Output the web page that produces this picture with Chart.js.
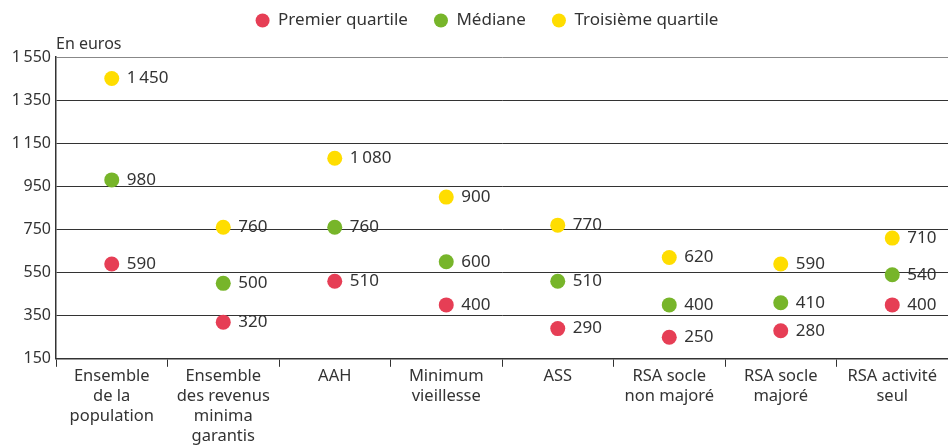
<!DOCTYPE html>
<html>
<head>
<meta charset="utf-8">
<script src="https://cdn.jsdelivr.net/npm/chart.js@4"></script>
<style>
 html, body { margin: 0; padding: 0; background: #fff; }
 #wrap { width: 948px; height: 446px; }
</style>
</head>
<body>
<div id="wrap"><canvas id="chart"></canvas></div>
<script>
const categories = [
 ["Ensemble", "de la", "population"],
 ["Ensemble", "des revenus", "minima", "garantis"],
 ["AAH"],
 ["Minimum", "vieillesse"],
 ["ASS"],
 ["RSA socle", "non majoré"],
 ["RSA socle", "majoré"],
 ["RSA activité", "seul"],
];
const premierQuartile = [590, 320, 510, 400, 290, 250, 280, 400];
const mediane = [980, 500, 760, 600, 510, 400, 410, 540];
const troisiemeQuartile = [1450, 760, 1080, 900, 770, 620, 590, 710];
const yTicks = [150, 350, 550, 750, 950, 1150, 1350, 1550];

const FONT = "'Noto Sans', sans-serif";
const TEXT = "#333333";

const fmt = v => {
 const s = String(v);
 return s.length > 3 ? s.slice(0, -3) + "\u2009" + s.slice(-3) : s;
};

const pointLabels = {
 id: "pointLabels",
 beforeInit(chart) {
  const legend = chart.legend;
  if (legend) {
   // leave room under the legend for the "En euros" note
   const fit = legend.fit;
   legend.fit = function () {
    fit.call(this);
    this.height += 18;
   };
   // legend sits a little right of the canvas centre
   const draw = legend.draw;
   legend.draw = function (...args) {
    this.ctx.save();
    this.ctx.translate(13, 0);
    draw.apply(this, args);
    this.ctx.restore();
   };
  }
 },
 afterDatasetsDraw(chart) {
  const ctx = chart.ctx;
  ctx.save();
  ctx.font = "17px " + FONT;
  ctx.fillStyle = TEXT;
  ctx.textAlign = "left";
  ctx.textBaseline = "middle";
  chart.data.datasets.forEach((ds, i) => {
   chart.getDatasetMeta(i).data.forEach((pt, j) => {
    ctx.fillText(fmt(ds.data[j]), pt.x + 15, pt.y);
   });
  });
  ctx.font = "16px " + FONT;
  ctx.fillText("En euros", chart.chartArea.left, chart.chartArea.top - 13);
  ctx.restore();
 },
};

const makeSet = (label, data, color) => ({
 label,
 data,
 backgroundColor: color,
 borderColor: color,
 pointRadius: 7.5,
 pointHoverRadius: 7.5,
 pointBorderWidth: 0,
 showLine: false,
});

new Chart(document.getElementById("chart"), {
 type: "line",
 data: {
  labels: categories,
  datasets: [
   makeSet("Premier quartile", premierQuartile, "#e63e55"),
   makeSet("Médiane", mediane, "#77b52a"),
   makeSet("Troisième quartile", troisiemeQuartile, "#ffdd00"),
  ],
 },
 options: {
  responsive: true,
  maintainAspectRatio: false,
  animation: false,
  layout: {
   autoPadding: false,
   padding: { top: -14, left: 0, right: 0, bottom: 0 },
  },
  plugins: {
   tooltip: { enabled: false },
   legend: {
    position: "top",
    labels: {
     usePointStyle: true,
     pointStyle: "circle",
     boxWidth: 10,
     boxHeight: 10,
     pointStyleWidth: 14,
     padding: 26,
     color: TEXT,
     font: { family: FONT, size: 17 },
    },
   },
  },
  scales: {
   x: {
    offset: true,
    afterFit: axis => {
     axis.paddingLeft = 0;
     axis.paddingRight = 0;
    },
    grid: {
     offset: true,
     drawOnChartArea: false,
     tickLength: 8,
     color: "#333",
    },
    border: { color: "#333", width: 1.5 },
    ticks: {
     color: TEXT,
     font: { family: FONT, size: 16.5, lineHeight: 1.2 },
     maxRotation: 0,
     autoSkip: false,
     padding: 0,
    },
   },
   y: {
    min: 150,
    max: 1550,
    afterBuildTicks: axis => {
     axis.ticks = yTicks.map(v => ({ value: v }));
    },
    afterFit: axis => {
     axis.width = 56;
    },
    grid: {
     drawTicks: false,
     color: c => (c.tick && c.tick.value === 1550 ? "#888" : "#333"),
    },
    border: { color: "#333", width: 1.5 },
    ticks: {
     color: TEXT,
     font: { family: FONT, size: 16 },
     padding: 5,
     callback: v => fmt(v),
    },
   },
  },
 },
 plugins: [pointLabels],
});
</script>
</body>
</html>
